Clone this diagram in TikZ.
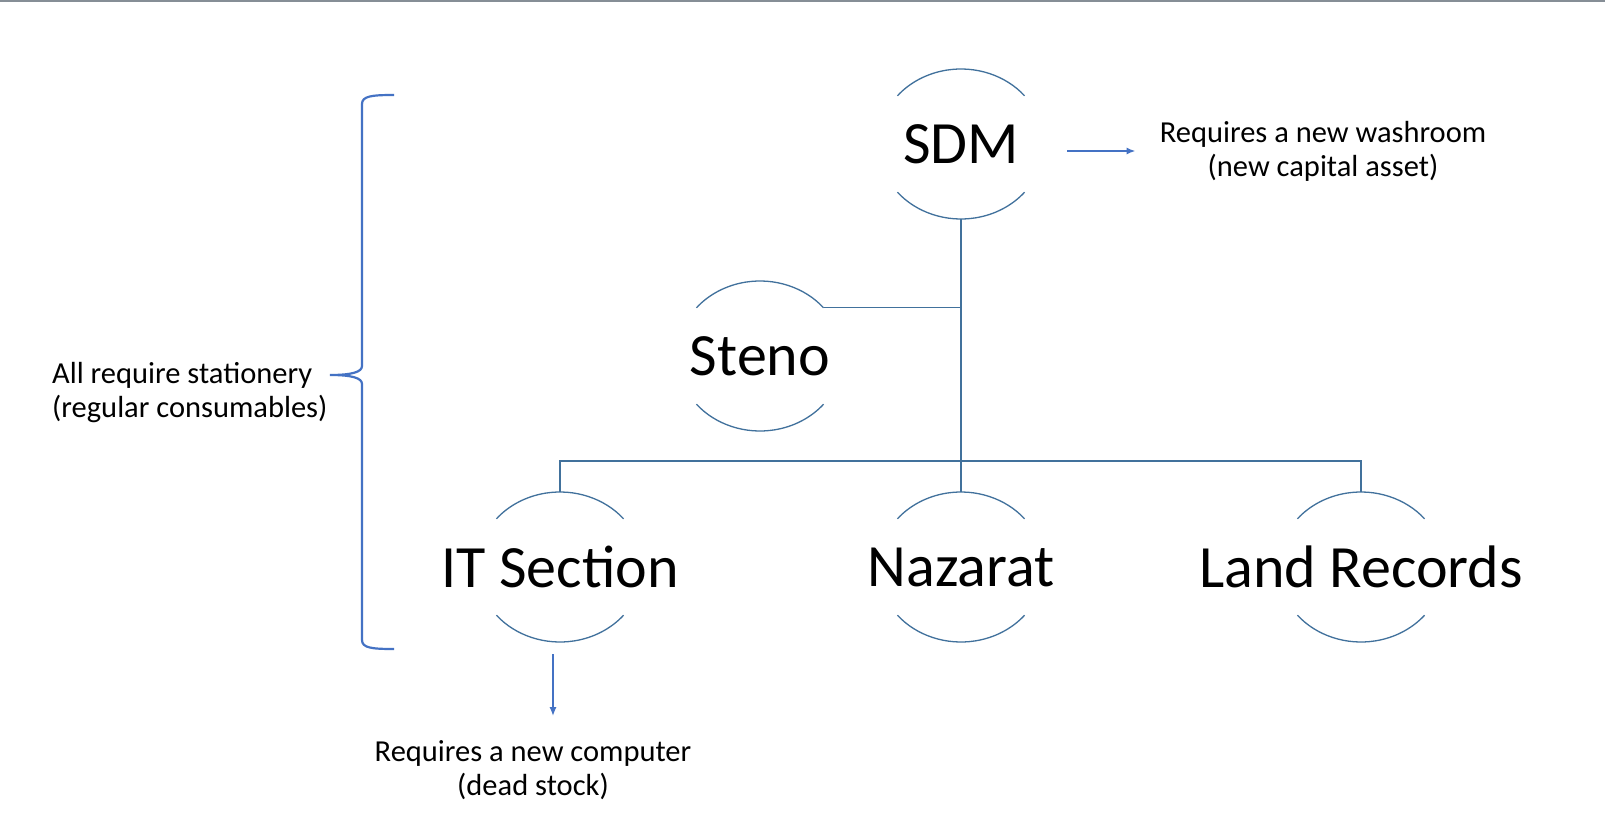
\documentclass[tikz,border=0pt]{standalone}
\usepackage{fontspec}
\setmainfont{Carlito}
\usetikzlibrary{shapes.geometric,arrows.meta}
\definecolor{linec}{HTML}{41719C}
\definecolor{arrc}{HTML}{4472C4}
\definecolor{topc}{HTML}{868E96}
\begin{document}
\begin{tikzpicture}[x=1pt,y=-1pt,
  orgnode/.style={shape=ellipse,minimum width=166pt,minimum height=150pt,inner sep=0pt,font=\fontsize{60}{66}\selectfont},
  label/.style={align=center,font=\fontsize{30.5}{34}\selectfont,inner sep=0pt},
  conn/.style={draw=linec,line width=1.1pt},
  arcline/.style={draw=linec,line width=1.3pt},
  arr/.style={draw=arrc,line width=2pt,-{Latex[length=9pt,width=7pt]}},
  bracec/.style={draw=arrc,line width=2.2pt}]
\useasboundingbox (0,0) rectangle (1605,818);
\fill[white] (0,0) rectangle (1605,818);
\draw[topc,line width=2pt] (0,1) -- (1605,1);

\node[orgnode] (sdm) at (961,144) {SDM};
\node[orgnode] (steno) at (760,356) {Steno};
\node[orgnode] (it) at (560,567) {IT Section};
\node[orgnode] (naz) at (961,567) {Nazarat};
\node[orgnode] (land) at (1361,567) {Land Records};

\foreach \n in {sdm,steno,it,naz,land}{
  \draw[arcline] ([shift={(40:83pt and 75pt)}]\n.center) arc[start angle=40,end angle=140,x radius=83pt,y radius=75pt];
  \draw[arcline] ([shift={(220:83pt and 75pt)}]\n.center) arc[start angle=220,end angle=320,x radius=83pt,y radius=75pt];
}

\coordinate (bus) at (961,461);
\coordinate (stenoend) at ([shift={(40:83pt and 75pt)}]steno.center);
\draw[conn] (sdm.south) -- (naz.north);
\draw[conn] (stenoend) -- (sdm.south |- stenoend);
\draw[conn] (it.north) -- (it.north |- bus) -- (land.north |- bus) -- (land.north);

\node[label] (wash) at (1323,151) {Requires a new washroom\\(new capital asset)};
\node[label] (comp) at (533,770) {Requires a new computer\\(dead stock)};
\node[label,align=left,anchor=west] (stat) at (52,393) {All require stationery\\(regular consumables)};

\coordinate (washtip) at ([xshift=-24pt]wash.west);
\draw[arr] (sdm.east |- washtip) ++(23pt,0) -- (washtip);
\draw[arr] ([xshift=-7pt,yshift=-12pt]it.south) -- ([xshift=-7pt,yshift=-74pt]it.south);

\draw[bracec] (394,95) .. controls (372,95) and (362,96) .. (362,104) -- (362,366)
  .. controls (362,372) and (352,375) .. (330,375)
  .. controls (352,375) and (362,378) .. (362,384) -- (362,640)
  .. controls (362,648) and (372,649) .. (394,649);
\end{tikzpicture}
\end{document}
